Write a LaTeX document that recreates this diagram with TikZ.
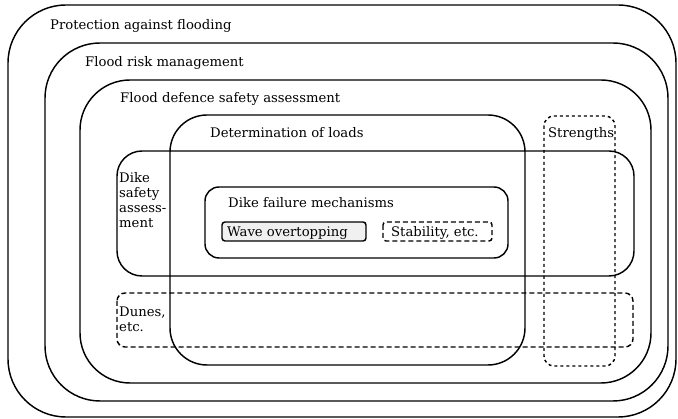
\documentclass[tikz,border=0pt]{standalone}
\usepackage{fontspec}
\setmainfont{DejaVu Serif}
\usepackage{tikz}

\begin{document}
\begin{tikzpicture}[
  x=1pt, y=-1pt,
  every node/.style={font=\fontsize{13.2}{15}\selectfont, inner sep=0pt},
  area/.style={line width=1.45pt},
  dunearea/.style={line width=1.45pt, dash pattern=on 5pt off 3pt},
  strengtharea/.style={line width=1.45pt, dash pattern=on 3pt off 3pt},
  label/.style={anchor=base west}
]

% canvas in pixels, y pointing down
\useasboundingbox (0,0) rectangle (678,419);

% ------------------------------------------------------------
% Nested areas
% ------------------------------------------------------------
\draw[area, rounded corners=58pt] (8,5) rectangle (676,417);
\draw[area, rounded corners=55pt] (45,43) rectangle (668,401);
\draw[area, rounded corners=50pt] (80,80) rectangle (651,383);
\draw[area, rounded corners=37pt] (170,115) rectangle (525,365);
\draw[area, rounded corners=25pt] (117,151) rectangle (634,276);
\draw[area, rounded corners=14pt] (205,187) rectangle (508,258);

% Dunes and strengths
\draw[dunearea, rounded corners=8pt] (117,293) rectangle (633,347);
\draw[strengtharea, rounded corners=10pt] (544,116) rectangle (615,366);

% Failure mechanisms
\draw[area, fill=gray!12, rounded corners=3pt] (222,222) rectangle (366,241);
\draw[dunearea, rounded corners=3pt] (383,222) rectangle (492,241);

% ------------------------------------------------------------
% Labels
% ------------------------------------------------------------
\node[label] (protection) at (50,30) {Protection against flooding};
\node[label] (riskmgmt) at (85,67) {Flood risk management};
\node[label] (defence) at (120,103) {Flood defence safety assessment};
\node[label] (loads) at (210,138) {Determination of loads};
\node[label] (strengths) at (548,138) {Strengths};
\node[anchor=north west, align=left] (dikesafety) at (119,172)
  {Dike\\safety\\assess-\\ment};
\node[label] (failure) at (228,208) {Dike failure mechanisms};
\node[label] (overtopping) at (227,237) {Wave overtopping};
\node[label] (stability) at (391,237) {Stability, etc.};
\node[anchor=north west, align=left] (dunes) at (119,307) {Dunes,\\etc.};

\end{tikzpicture}
\end{document}
